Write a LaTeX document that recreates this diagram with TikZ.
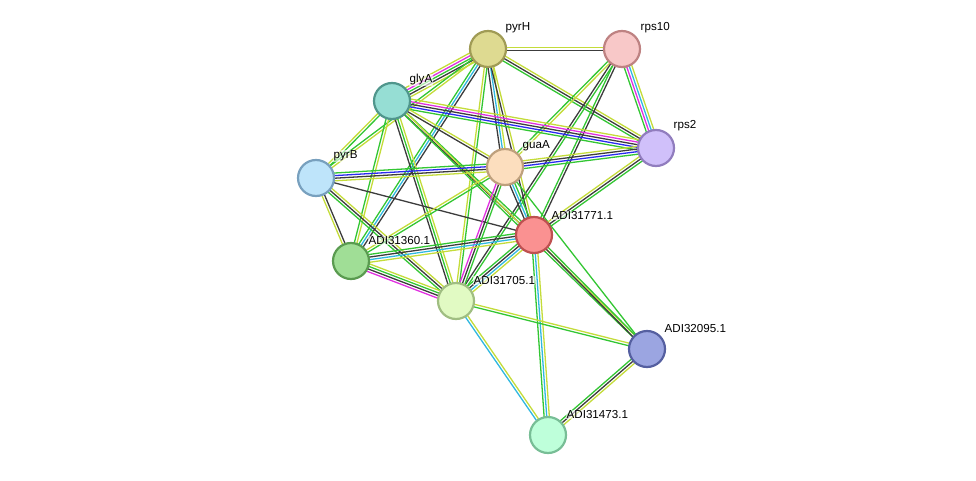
\documentclass[tikz,border=0pt]{standalone}
\usepackage{fontspec}
\setmainfont{Liberation Sans}
\usetikzlibrary{calc}
\definecolor{eck}{HTML}{3C3C3C}\definecolor{ecg}{HTML}{33C633}\definecolor{ecy}{HTML}{C4DC3A}
\definecolor{ecb}{HTML}{2A2AF0}\definecolor{ecm}{HTML}{E030E0}\definecolor{ecc}{HTML}{30B8E0}
\newcommand{\edg}[3]{%
 \foreach \c [count=\i] in {#3} {\xdef\nn{\i}}%
 \foreach \c [count=\i] in {#3} {%
  \pgfmathsetmacro{\off}{(\i-(\nn+1)/2)*2.6}%
  \draw[draw=ec\c,line width=1.3pt] ($(#1)!\off pt!90:(#2)$) -- ($(#2)!\off pt!-90:(#1)$);}}
\begin{document}
\begin{tikzpicture}[x=1pt,y=-1pt,
 nd/.style={circle,minimum size=36pt,inner sep=0,line width=2.2pt},
 lb/.style={font=\fontsize{11.6}{12}\selectfont,anchor=south west,inner sep=0.5pt,fill=white,fill opacity=0.6,text opacity=1}]
\useasboundingbox (0,0) rectangle (976,481);
\coordinate (pyrH) at (488,49);
\coordinate (rps10) at (622,49);
\coordinate (glyA) at (392,101);
\coordinate (rps2) at (656,148);
\coordinate (pyrB) at (316,178);
\coordinate (guaA) at (505,167);
\coordinate (a71) at (534,235);
\coordinate (a60) at (351,261);
\coordinate (a05) at (456,301);
\coordinate (a95) at (647,349);
\coordinate (a73) at (548,435);
\edg{pyrH}{rps10}{k,y}
\edg{pyrH}{glyA}{y,m,g,k,y}
\edg{pyrH}{pyrB}{g,y}
\edg{pyrH}{a60}{g,c,k}
\edg{pyrH}{a05}{y,g}
\edg{pyrH}{guaA}{k,c,y}
\edg{pyrH}{a71}{k,y}
\edg{pyrH}{rps2}{g,k,y}
\edg{rps10}{rps2}{g,m,c,y}
\edg{rps10}{guaA}{g,y}
\edg{rps10}{a71}{g,k}
\edg{rps10}{a05}{k,g}
\edg{glyA}{rps2}{g,b,k,m,y}
\edg{glyA}{guaA}{k,y}
\edg{glyA}{a71}{k,g}
\edg{glyA}{a60}{g,y}
\edg{glyA}{a05}{k,g,y}
\edg{glyA}{pyrB}{y,g}
\edg{glyA}{a95}{g,y}
\edg{pyrB}{guaA}{y,k,b,g}
\edg{guaA}{rps2}{g,b,k,y}
\edg{pyrB}{a71}{k}
\edg{pyrB}{a60}{y,k}
\edg{pyrB}{a05}{g,k,y}
\edg{guaA}{a71}{k,c,g}
\edg{guaA}{a05}{m,k,g}
\edg{guaA}{a60}{y,g}
\edg{guaA}{a95}{g}
\edg{a71}{a60}{g,k,c,y}
\edg{a71}{a05}{g,k,c,y}
\edg{a71}{a73}{g,c,y}
\edg{a71}{a95}{k,g}
\edg{a71}{rps2}{g,k,y}
\edg{a60}{a05}{m,k,g,y}
\edg{a05}{a73}{c,y}
\edg{a05}{a95}{g,y}
\edg{a95}{a73}{g,k,y}
\node[nd,fill={rgb,255:red,222;green,218;blue,145},draw={rgb,255:red,160;green,155;blue,85}] (npyrH) at (pyrH) {};
\node[nd,fill={rgb,255:red,248;green,200;blue,200},draw={rgb,255:red,190;green,130;blue,130}] (nrps10) at (rps10) {};
\node[nd,fill={rgb,255:red,150;green,222;blue,212},draw={rgb,255:red,80;green,150;blue,140}] (nglyA) at (glyA) {};
\node[nd,fill={rgb,255:red,208;green,192;blue,250},draw={rgb,255:red,145;green,125;blue,190}] (nrps2) at (rps2) {};
\node[nd,fill={rgb,255:red,190;green,228;blue,250},draw={rgb,255:red,120;green,160;blue,190}] (npyrB) at (pyrB) {};
\node[nd,fill={rgb,255:red,252;green,222;blue,190},draw={rgb,255:red,190;green,160;blue,125}] (nguaA) at (guaA) {};
\node[nd,fill={rgb,255:red,250;green,145;blue,145},draw={rgb,255:red,190;green,80;blue,80}] (n71) at (a71) {};
\node[nd,fill={rgb,255:red,160;green,222;blue,150},draw={rgb,255:red,90;green,155;blue,80}] (n60) at (a60) {};
\node[nd,fill={rgb,255:red,225;green,250;blue,195},draw={rgb,255:red,160;green,190;blue,130}] (n05) at (a05) {};
\node[nd,fill={rgb,255:red,155;green,165;blue,225},draw={rgb,255:red,85;green,95;blue,160}] (n95) at (a95) {};
\node[nd,fill={rgb,255:red,190;green,255;blue,218},draw={rgb,255:red,120;green,190;blue,150}] (n73) at (a73) {};
\node[lb] at (505,34) {pyrH};
\node[lb] at (640,34) {rps10};
\node[lb] at (409,86) {glyA};
\node[lb] at (673,132) {rps2};
\node[lb] at (333,162) {pyrB};
\node[lb] at (522,152) {guaA};
\node[lb] at (551,220) {ADI31771.1};
\node[lb] at (368,245) {ADI31360.1};
\node[lb] at (473,285) {ADI31705.1};
\node[lb] at (664,333) {ADI32095.1};
\node[lb] at (566,419) {ADI31473.1};
\end{tikzpicture}
\end{document}
